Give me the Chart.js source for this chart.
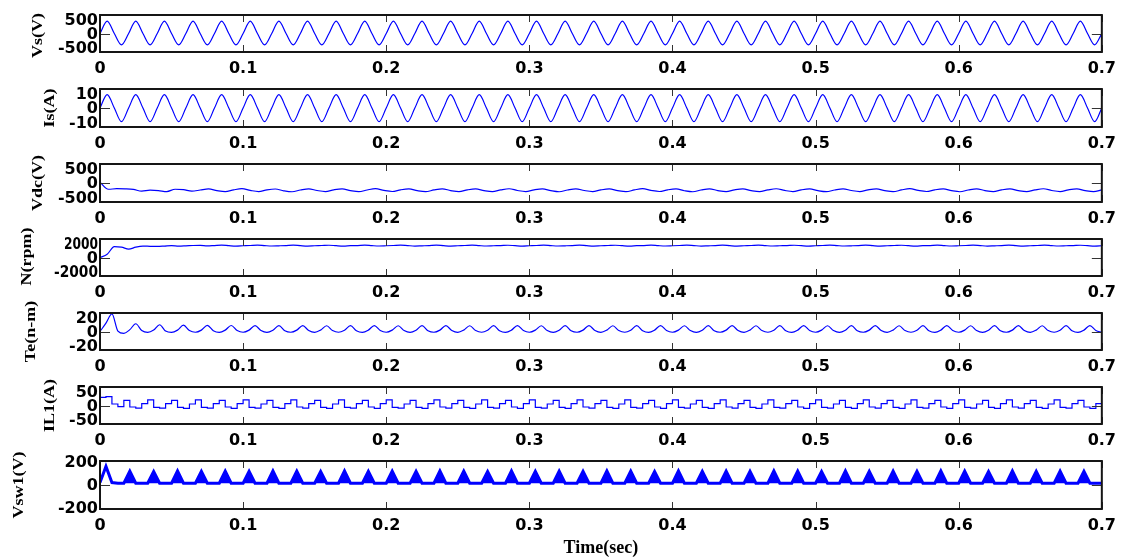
<!DOCTYPE html>
<html><head><meta charset="utf-8">
<script src="https://cdn.jsdelivr.net/npm/chart.js@4.4.1/dist/chart.umd.min.js"></script>
<style>
html,body{margin:0;padding:0;background:#fff;}
#wrap{position:relative;width:1123px;height:558px;overflow:hidden;background:#fff;}
#wrap canvas{position:absolute;left:0;}
</style></head><body><div id="wrap"></div>
<script>
// ---------------- data ----------------
const xTickValues = [0, 0.1, 0.2, 0.3, 0.4, 0.5, 0.6, 0.7];

// Vs(V), sampled every 5 ms
const vsStep = 0.005;
const vsValues = [
  0,335,0,-305, 0,335,0,-305, 0,335,0,-305, 0,335,0,-305, 0,335,0,-305,
  0,335,0,-305, 0,335,0,-305, 0,335,0,-305, 0,335,0,-305, 0,335,0,-305,
  0,335,0,-305, 0,335,0,-305, 0,335,0,-305, 0,335,0,-305, 0,335,0,-305,
  0,335,0,-305, 0,335,0,-305, 0,335,0,-305, 0,335,0,-305, 0,335,0,-305,
  0,335,0,-305, 0,335,0,-305, 0,335,0,-305, 0,335,0,-305, 0,335,0,-305,
  0,335,0,-305, 0,335,0,-305, 0,335,0,-305, 0,335,0,-305, 0,335,0,-305,
  0,335,0,-305, 0,335,0,-305, 0,335,0,-305, 0,335,0,-305, 0,335,0,-305,
  0];

// Is(A), sampled every 5 ms
const isStep = 0.005;
const isValues = [
  0,7.0,0,-7.2, 0,7.0,0,-7.2, 0,7.0,0,-7.2, 0,7.0,0,-7.2, 0,7.0,0,-7.2,
  0,7.0,0,-7.2, 0,7.0,0,-7.2, 0,7.0,0,-7.2, 0,7.0,0,-7.2, 0,7.0,0,-7.2,
  0,7.0,0,-7.2, 0,7.0,0,-7.2, 0,7.0,0,-7.2, 0,7.0,0,-7.2, 0,7.0,0,-7.2,
  0,7.0,0,-7.2, 0,7.0,0,-7.2, 0,7.0,0,-7.2, 0,7.0,0,-7.2, 0,7.0,0,-7.2,
  0,7.0,0,-7.2, 0,7.0,0,-7.2, 0,7.0,0,-7.2, 0,7.0,0,-7.2, 0,7.0,0,-7.2,
  0,7.0,0,-7.2, 0,7.0,0,-7.2, 0,7.0,0,-7.2, 0,7.0,0,-7.2, 0,7.0,0,-7.2,
  0,7.0,0,-7.2, 0,7.0,0,-7.2, 0,7.0,0,-7.2, 0,7.0,0,-7.2, 0,7.0,0,-7.2,
  0];

// Vdc(V), sampled every 0.7/120 s
const vdcStep = 0.7 / 120;
const vdcValues = [
  20,-165,-150,-155,-170,-215,-190,-200,-225,-165,-175,-215,-185,
  -155,-200,-228,-182, -150,-195,-225,-180, -158,-205,-230,-185, -152,-198,-226,-180,
  -155,-200,-228,-184, -150,-196,-224,-180, -157,-203,-229,-183, -153,-199,-227,-181,
  -156,-201,-228,-182, -151,-197,-225,-180, -155,-202,-230,-184, -152,-198,-226,-181,
  -156,-200,-228,-183, -150,-195,-224,-180, -157,-204,-230,-185, -153,-199,-227,-181,
  -155,-201,-228,-182, -151,-196,-225,-180, -156,-203,-229,-184, -152,-198,-226,-181,
  -155,-200,-228,-183, -150,-196,-224,-180, -157,-202,-230,-185, -153,-199,-227,-181,
  -156,-201,-228,-182, -151,-197,-225,-180, -155,-200,-228,-182];

// N(rpm), sampled every 5 ms
const nStep = 0.005;
const nValues = [
  0,350,1170,1130,900,1120,1230,1210,1200,1240,1290,1230,1260,1300,1320,1250,
  1290,1330,1280,1240,1270, 1300,1335,1285,1245,1265, 1290,1330,1280,1240,1270,
  1295,1325,1275,1240,1275, 1290,1330,1280,1245,1270, 1300,1335,1285,1240,1265,
  1290,1330,1280,1240,1270, 1295,1330,1280,1245,1270, 1290,1325,1280,1240,1270,
  1300,1335,1285,1245,1265, 1290,1330,1280,1240,1270, 1295,1325,1275,1240,1275,
  1290,1330,1280,1245,1270, 1300,1335,1285,1240,1265, 1290,1330,1280,1240,1270,
  1295,1330,1280,1245,1270, 1290,1325,1280,1240,1270, 1300,1335,1285,1245,1265,
  1290,1330,1280,1240,1270, 1295,1325,1275,1240,1275, 1290,1330,1280,1245,1270,
  1300,1335,1285,1240,1265, 1290,1330,1280,1240,1270, 1295,1330,1280,1245,1270,
  1290,1325,1280,1240,1270];

// Te(n-m), sampled every 1/240 s
const teStep = 1 / 240;
const teValues = [
  0,9,19,0.5,-2,
  2,8.4,1,-1, 1.5,7.3,0.5,-1, 1.5,6.8,1,-0.8, 1.5,6.6,0.8,-1, 1.5,6.5,1,-0.8,
  1.5,6.4,1,-1, 1.4,6.3,0.8,-0.8, 1.5,6.4,1,-1, 1.5,6.2,1,-0.8, 1.4,6.3,0.8,-1,
  1.5,6.4,1,-0.8, 1.5,6.2,1,-1, 1.4,6.3,0.8,-0.8, 1.5,6.4,1,-1, 1.5,6.2,1,-0.8,
  1.4,6.3,0.8,-1, 1.5,6.4,1,-0.8, 1.5,6.2,1,-1, 1.4,6.3,0.8,-0.8, 1.5,6.4,1,-1,
  1.5,6.2,1,-0.8, 1.4,6.3,0.8,-1, 1.5,6.4,1,-0.8, 1.5,6.2,1,-1, 1.4,6.3,0.8,-0.8,
  1.5,6.4,1,-1, 1.5,6.2,1,-0.8, 1.4,6.3,0.8,-1, 1.5,6.4,1,-0.8, 1.5,6.2,1,-1,
  1.4,6.3,0.8,-0.8, 1.5,6.4,1,-1, 1.5,6.2,1,-0.8, 1.4,6.3,0.8,-1, 1.5,6.4,1,-0.8,
  1.5,6.2,1,-1, 1.4,6.3,0.8,-0.8, 1.5,6.4,1,-1, 1.5,6.2,1,-0.8, 1.4,6.3,0.8,-1,
  1.5,6.4,1,-0.8];

// IL1(A), sampled every 1/240 s
const ilStep = 1 / 240;
const ilValues = [
  5,22,24,4,-3,
  14,-4,-7,5, 15,-5,-7,5, 14,-5,-8,4, 15,-5,-7,5, 14,-4,-8,5,
  15,-5,-7,4, 14,-5,-8,5, 15,-4,-7,5, 14,-5,-8,4, 15,-5,-7,5,
  14,-4,-8,5, 15,-5,-7,4, 14,-5,-8,5, 15,-4,-7,5, 14,-5,-8,4,
  15,-5,-7,5, 14,-4,-8,5, 15,-5,-7,4, 14,-5,-8,5, 15,-4,-7,5,
  14,-5,-8,4, 15,-5,-7,5, 14,-4,-8,5, 15,-5,-7,4, 14,-5,-8,5,
  15,-4,-7,5, 14,-5,-8,4, 15,-5,-7,5, 14,-4,-8,5, 15,-5,-7,4,
  14,-5,-8,5, 15,-4,-7,5, 14,-5,-8,4, 15,-5,-7,5, 14,-4,-8,5,
  15,-5,-7,4, 14,-5,-8,5, 15,-4,-7,5, 14,-5,-8,4, 15,-5,-7,5,
  14,-4,-8,5];

// Vsw1(V), sampled every 1/240 s
const vswStep = 1 / 240;
const vswValues = [
  20,155,20,15,15,
  115,15,15,15, 112,15,15,15, 118,15,15,15, 114,15,15,15, 116,15,15,15,
  113,15,15,15, 117,15,15,15, 115,15,15,15, 112,15,15,15, 118,15,15,15,
  114,15,15,15, 116,15,15,15, 113,15,15,15, 117,15,15,15, 115,15,15,15,
  112,15,15,15, 118,15,15,15, 114,15,15,15, 116,15,15,15, 113,15,15,15,
  117,15,15,15, 115,15,15,15, 112,15,15,15, 118,15,15,15, 114,15,15,15,
  116,15,15,15, 113,15,15,15, 117,15,15,15, 115,15,15,15, 112,15,15,15,
  118,15,15,15, 114,15,15,15, 116,15,15,15, 113,15,15,15, 117,15,15,15,
  115,15,15,15, 112,15,15,15, 118,15,15,15, 114,15,15,15, 116,15,15,15,
  113,15,15,15];
const vswFillFrom = 3;
const vswBase = 15;

// y ticks per panel
const vsTicks = [500, 0, -500];
const isTicks = [10, 0, -10];
const vdcTicks = [500, 0, -500];
const nTicks = [2000, 0, -2000];
const teTicks = [20, 0, -20];
const ilTicks = [50, 0, -50];
const vswTicks = [200, 0, -200];

const yLabels = ['Vs(V)', 'Is(A)', 'Vdc(V)', 'N(rpm)', 'Te(n-m)', 'IL1(A)', 'Vsw1(V)'];
const xTitle = 'Time(sec)';

// ---------------- layout / style ----------------
const BLUE = '#0000ff';
const panels = [
  {label: yLabels[0], vals: vsValues, step: vsStep, ticks: vsTicks, top: 15, bottom: 52, titleX: 38, titleDy: 2, mode: 'smooth'},
  {label: yLabels[1], vals: isValues, step: isStep, ticks: isTicks, top: 89, bottom: 127, titleX: 50, titleDy: 0, mode: 'smooth'},
  {label: yLabels[2], vals: vdcValues, step: vdcStep, ticks: vdcTicks, top: 164, bottom: 202, titleX: 38, titleDy: 0, mode: 'smooth'},
  {label: yLabels[3], vals: nValues, step: nStep, ticks: nTicks, top: 239, bottom: 276, titleX: 27, titleDy: -1, mode: 'smooth', fit: [34, null, 44]},
  {label: yLabels[4], vals: teValues, step: teStep, ticks: teTicks, top: 313, bottom: 350, titleX: 31, titleDy: 0, mode: 'smooth'},
  {label: yLabels[5], vals: ilValues, step: ilStep, ticks: ilTicks, top: 387, bottom: 424, titleX: 50, titleDy: 0, mode: 'step'},
  {label: yLabels[6], vals: vswValues, step: vswStep, ticks: vswTicks, top: 461, bottom: 509, titleX: 19, titleDy: 0, mode: 'spike', last: true}
];
const PAD_TOP = 25;

const framePlugin = {
  id: 'frame',
  afterDatasetsDraw(chart, args, o) {
    const {ctx, chartArea: a} = chart;
    const x = chart.scales.x, y = chart.scales.y;
    ctx.save();
    // inward tick marks
    ctx.strokeStyle = '#333';
    ctx.lineWidth = 1;
    ctx.beginPath();
    xTickValues.forEach(v => {
      const px = Math.round(x.getPixelForValue(v)) + 0.5;
      ctx.moveTo(px, a.top); ctx.lineTo(px, a.top + 7);
      ctx.moveTo(px, a.bottom); ctx.lineTo(px, a.bottom - 7);
    });
    const py0 = Math.round(y.getPixelForValue(0)) + 0.5;
    ctx.moveTo(a.left, py0); ctx.lineTo(a.left + 10, py0);
    ctx.moveTo(a.right, py0); ctx.lineTo(a.right - 10, py0);
    ctx.stroke();
    // box
    ctx.strokeStyle = '#151515';
    ctx.lineWidth = 2;
    ctx.strokeRect(a.left, a.top, a.right - a.left, a.bottom - a.top);
    // y tick labels
    ctx.fillStyle = '#000';
    ctx.font = 'bold 16px "DejaVu Sans"';
    ctx.textAlign = 'right';
    ctx.textBaseline = 'middle';
    o.ticks.forEach((v, k) => {
      const py = y.getPixelForValue(v) + o.nudge[k];
      const w = o.fit && o.fit[k];
      if (w) ctx.fillText(String(v), 98, py, w); else ctx.fillText(String(v), 98, py);
    });
    // y title
    ctx.translate(o.titleX, (a.top + a.bottom) / 2 + o.titleDy);
    ctx.rotate(-Math.PI / 2);
    ctx.scale(1, 0.82);
    ctx.font = 'bold 18px "Liberation Serif"';
    ctx.textAlign = 'center';
    ctx.textBaseline = 'middle';
    ctx.fillText(o.title, 0, 0);
    ctx.restore();
  }
};

const wrap = document.getElementById('wrap');
panels.forEach(p => {
  const H = p.bottom - p.top;
  const xh = p.last ? 50 : 35;
  const c = document.createElement('canvas');
  c.width = 1123;
  c.height = PAD_TOP + H + xh;
  c.style.top = (p.top - PAD_TOP) + 'px';
  c.style.width = '1123px';
  c.style.height = c.height + 'px';
  wrap.appendChild(c);

  const pts = p.vals.map((v, i) => ({x: i * p.step, y: v}));
  const datasets = [];
  const main = {data: pts, borderColor: BLUE, borderWidth: 1.2, pointRadius: 0, fill: false};
  if (p.mode === 'smooth') main.cubicInterpolationMode = 'monotone';
  if (p.mode === 'step') { main.stepped = 'after'; main.borderWidth = 1.2; }
  if (p.mode === 'spike') { main.tension = 0; main.borderWidth = 3; }
  datasets.push(main);
  if (p.mode === 'spike') {
    datasets.push({
      data: pts.slice(vswFillFrom), borderColor: 'rgba(0,0,0,0)', borderWidth: 0,
      backgroundColor: BLUE, pointRadius: 0, tension: 0, fill: {value: vswBase}
    });
  }
  const tall = H > 42;
  new Chart(c, {
    type: 'line',
    data: {datasets},
    plugins: [framePlugin],
    options: {
      responsive: false, animation: false, devicePixelRatio: 1,
      layout: {padding: {top: PAD_TOP, right: 18, left: 0, bottom: 0}},
      plugins: {
        legend: {display: false}, tooltip: {enabled: false},
        frame: {ticks: p.ticks, nudge: tall ? [2, 1, 0] : [5.5, 1, -3], fit: p.fit, title: p.label, titleX: p.titleX, titleDy: p.titleDy}
      },
      scales: {
        x: {
          type: 'linear', min: 0, max: 0.7,
          afterFit: s => { s.height = xh; },
          grid: {display: false, drawTicks: false}, border: {display: false},
          ticks: {stepSize: 0.1, autoSkip: false, maxRotation: 0, padding: 7, color: '#000',
                  font: {family: 'DejaVu Sans', weight: 'bold', size: 16},
                  callback: v => String(Math.round(v * 10) / 10)},
          title: {display: !!p.last, text: xTitle, color: '#000', padding: {top: 0, bottom: 0},
                  font: {family: 'Liberation Serif', weight: 'bold', size: 18}}
        },
        y: {
          type: 'linear', min: p.ticks[2], max: p.ticks[0],
          afterFit: s => { s.width = 100; },
          ticks: {display: false}, grid: {display: false, drawTicks: false}, border: {display: false}
        }
      }
    }
  });
});
</script></body></html>
